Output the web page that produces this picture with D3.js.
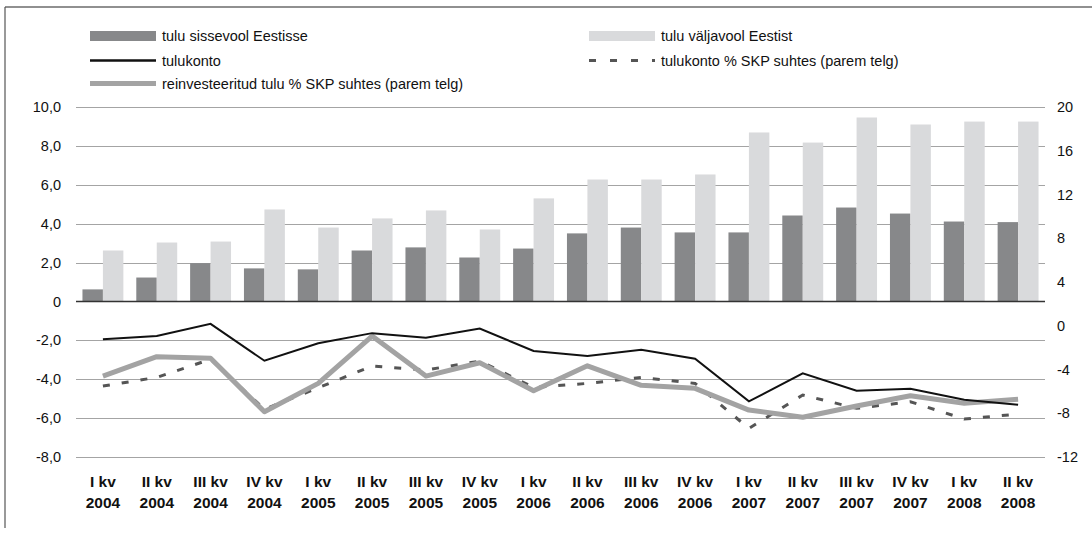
<!doctype html>
<html>
<head>
<meta charset="utf-8">
<title>Tulukonto</title>
<script src="https://cdnjs.cloudflare.com/ajax/libs/d3/7.8.5/d3.min.js"></script>
<style>
    body { margin: 0; background: #fff; }
    svg text { font-family: "Liberation Sans", Arial, sans-serif; fill: #111; }
    .tick-label { font-size: 14.5px; }
    .x-label { font-size: 15.5px; font-weight: bold; }
    .legend-text { font-size: 14.5px; }
    .gridline { stroke: #a4a4a4; stroke-width: 1.3; shape-rendering: crispEdges; }
</style>
</head>
<body>
<svg id="chart" width="1092" height="533"></svg>
<script>
// Categories
var quarters = ["I kv", "II kv", "III kv", "IV kv", "I kv", "II kv", "III kv", "IV kv",
    "I kv", "II kv", "III kv", "IV kv", "I kv", "II kv", "III kv", "IV kv", "I kv", "II kv"];
var years = ["2004", "2004", "2004", "2004", "2005", "2005", "2005", "2005",
    "2006", "2006", "2006", "2006", "2007", "2007", "2007", "2007", "2008", "2008"];

// Series (left axis)
var sissevool = [0.62, 1.23, 1.97, 1.70, 1.65, 2.62, 2.78, 2.26, 2.72,
    3.50, 3.80, 3.55, 3.55, 4.42, 4.83, 4.52, 4.11, 4.08];
var valjavool = [2.62, 3.03, 3.08, 4.73, 3.80, 4.27, 4.68, 3.70, 5.30,
    6.27, 6.27, 6.53, 8.69, 8.17, 9.46, 9.10, 9.25, 9.25];
var tulukonto = [-1.95, -1.78, -1.15, -3.05, -2.15, -1.63, -1.87, -1.39, -2.55,
    -2.81, -2.48, -2.95, -5.14, -3.70, -4.59, -4.49, -5.05, -5.31];

// Series (right axis)
var tulukontoSKP = [-5.51, -4.72, -3.07, -7.64, -5.67, -3.68, -4.05, -3.23, -5.63,
    -5.27, -4.72, -5.27, -9.38, -6.33, -7.55, -6.95, -8.53, -8.07];
var reinvestSKP = [-4.60, -2.83, -2.98, -7.86, -5.27, -0.94, -4.60, -3.38, -5.94,
    -3.66, -5.45, -5.72, -7.71, -8.37, -7.34, -6.40, -7.09, -6.73];

// Ticks
var leftTicks = [10, 8, 6, 4, 2, 0, -2, -4, -6, -8];
var rightTicks = [20, 16, 12, 8, 4, 0, -4, -8, -12];

var legendNames = ["tulu sissevool Eestisse", "tulu väljavool Eestist", "tulukonto",
    "tulukonto % SKP suhtes (parem telg)", "reinvesteeritud tulu % SKP suhtes (parem telg)"];

var colors = {
    dark: "#87888a",
    light: "#d9dadc",
    black: "#111111",
    gray: "#a3a3a3",
    dash: "#555555"
};

var svg = d3.select("#chart");

var plotLeft = 76, plotRight = 1045, plotTop = 107, plotBottom = 457;

// Scales
var x = d3.scaleBand()
    .domain(d3.range(quarters.length))
    .range([plotLeft, plotRight])
    .paddingInner(0.24)
    .paddingOuter(0.12);

var sub = d3.scaleBand()
    .domain([0, 1])
    .range([0, x.bandwidth()]);

var yL = d3.scaleLinear().domain([-8, 10]).range([plotBottom, plotTop]);
var yR = d3.scaleLinear().domain([-12, 20]).range([plotBottom, plotTop]);

function cx(i) { return x(i) + x.bandwidth() / 2; }

// Frame (top and left only)
svg.append("line").attr("x1", 5).attr("x2", 1092).attr("y1", 7).attr("y2", 7)
    .attr("stroke", "#222").attr("stroke-width", 1.2);
svg.append("line").attr("x1", 5).attr("x2", 5).attr("y1", 7).attr("y2", 528)
    .attr("stroke", "#555").attr("stroke-width", 1.2);

// Gridlines
svg.append("g").selectAll("line")
    .data(leftTicks.filter(function(d) { return d !== 0; }))
    .enter().append("line")
    .attr("class", "gridline")
    .attr("x1", plotLeft).attr("x2", plotRight)
    .attr("y1", function(d) { return Math.round(yL(d)) + 0.5; })
    .attr("y2", function(d) { return Math.round(yL(d)) + 0.5; });

// Left tick labels (comma decimals, plain hyphen minus)
svg.append("g").selectAll("text")
    .data(leftTicks)
    .enter().append("text")
    .attr("class", "tick-label")
    .attr("x", 61)
    .attr("y", function(d) { return yL(d); })
    .attr("dy", "0.35em")
    .attr("text-anchor", "end")
    .text(function(d) { return d === 0 ? "0" : d.toFixed(1).replace(".", ","); });

// Right tick labels
svg.append("g").selectAll("text")
    .data(rightTicks)
    .enter().append("text")
    .attr("class", "tick-label")
    .attr("x", 1057)
    .attr("y", function(d) { return yR(d); })
    .attr("dy", "0.35em")
    .text(function(d) { return String(d); });

// Bars
var bars = svg.append("g");
bars.selectAll(".bar-in")
    .data(sissevool)
    .enter().append("rect")
    .attr("class", "bar-in")
    .attr("x", function(d, i) { return x(i) + sub(0); })
    .attr("width", sub.bandwidth())
    .attr("y", function(d) { return yL(d); })
    .attr("height", function(d) { return yL(0) - yL(d); })
    .attr("fill", colors.dark);
bars.selectAll(".bar-out")
    .data(valjavool)
    .enter().append("rect")
    .attr("class", "bar-out")
    .attr("x", function(d, i) { return x(i) + sub(1); })
    .attr("width", sub.bandwidth())
    .attr("y", function(d) { return yL(d); })
    .attr("height", function(d) { return yL(0) - yL(d); })
    .attr("fill", colors.light);

// Zero line
svg.append("line")
    .attr("x1", plotLeft).attr("x2", plotRight)
    .attr("y1", yL(0)).attr("y2", yL(0))
    .attr("stroke", "#333").attr("stroke-width", 1.6);

// Lines
var lineR = d3.line()
    .x(function(d, i) { return cx(i); })
    .y(function(d) { return yR(d); });
var lineL = d3.line()
    .x(function(d, i) { return cx(i); })
    .y(function(d) { return yL(d); });

svg.append("path")
    .datum(tulukontoSKP)
    .attr("d", lineR)
    .attr("fill", "none")
    .attr("stroke", colors.dash)
    .attr("stroke-width", 3)
    .attr("stroke-dasharray", "7,12");

svg.append("path")
    .datum(reinvestSKP)
    .attr("d", lineR)
    .attr("fill", "none")
    .attr("stroke", colors.gray)
    .attr("stroke-width", 5)
    .attr("stroke-linejoin", "round");

svg.append("path")
    .datum(tulukonto)
    .attr("d", lineL)
    .attr("fill", "none")
    .attr("stroke", colors.black)
    .attr("stroke-width", 2);

// X labels
var xl = svg.append("g").selectAll("g")
    .data(quarters)
    .enter().append("g")
    .attr("transform", function(d, i) { return "translate(" + cx(i) + ",0)"; });
xl.append("text")
    .attr("class", "x-label")
    .attr("y", 487)
    .attr("text-anchor", "middle")
    .text(function(d) { return d; });
xl.append("text")
    .attr("class", "x-label")
    .attr("y", 508)
    .attr("text-anchor", "middle")
    .text(function(d, i) { return years[i]; });

// Legend
var legendItems = [
    { name: legendNames[0], x: 90, y: 36, type: "rect", color: colors.dark },
    { name: legendNames[1], x: 589, y: 36, type: "rect", color: colors.light },
    { name: legendNames[2], x: 90, y: 60.5, type: "line", color: colors.black, w: 2.5 },
    { name: legendNames[3], x: 589, y: 60.5, type: "dash", color: colors.dash, w: 3 },
    { name: legendNames[4], x: 90, y: 83.5, type: "line", color: colors.gray, w: 5 }
];

var lg = svg.append("g").selectAll("g")
    .data(legendItems)
    .enter().append("g")
    .attr("transform", function(d) { return "translate(" + d.x + "," + d.y + ")"; });

lg.each(function(d) {
    var g = d3.select(this);
    if (d.type === "rect") {
        g.append("rect").attr("x", 0).attr("y", -5).attr("width", 66).attr("height", 10)
            .attr("fill", d.color);
    } else {
        var l = g.append("line").attr("x1", 0).attr("x2", 66).attr("y1", 0).attr("y2", 0)
            .attr("stroke", d.color).attr("stroke-width", d.w);
        if (d.type === "dash") l.attr("stroke-dasharray", "7,14");
    }
    g.append("text")
        .attr("class", "legend-text")
        .attr("x", 72)
        .attr("dy", "0.35em")
        .text(d.name);
});
</script>
</body>
</html>
